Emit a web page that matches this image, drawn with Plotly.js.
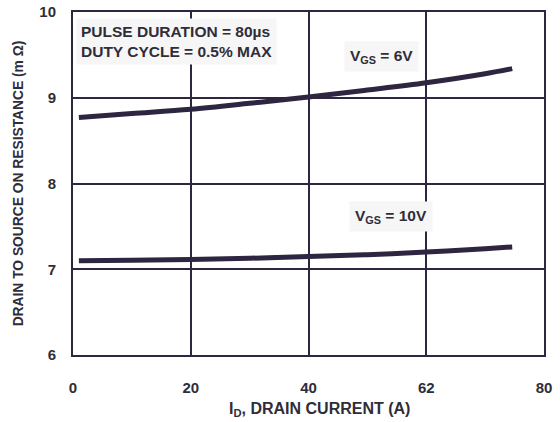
<!DOCTYPE html>
<html>
<head>
<meta charset="utf-8">
<script src="https://cdn.plot.ly/plotly-3.0.1.min.js"></script>
<style>html,body{margin:0;padding:0;background:#fff;}#chart{width:560px;height:422px;}</style>
</head>
<body>
<div id="chart"></div>
<script>
// Data
var currentA = [1, 10, 20, 30, 40, 50, 60, 70, 74.6];
var rdsVgs6 = [8.77, 8.815, 8.865, 8.935, 9.01, 9.09, 9.175, 9.28, 9.34];
var rdsVgs10 = [7.098, 7.105, 7.115, 7.128, 7.15, 7.17, 7.20, 7.24, 7.26];
var xTickVals = [0, 20, 40, 60, 80];
var xTickText = ['0', '20', '40', '62', '80'];
var yTickVals = [6, 7, 8, 9, 10];
var labelVgs6 = 'V<sub>GS</sub> = 6V';
var labelVgs10 = 'V<sub>GS</sub> = 10V';
var noteText = 'PULSE DURATION = 80\u00b5s<br>DUTY CYCLE = 0.5% MAX';
var xTitle = 'I<sub>D</sub>, DRAIN CURRENT (A)';
var yTitle = 'DRAIN TO SOURCE ON RESISTANCE (m \u03a9)';

var ink = '#2e2540';
var textCol = '#2f2d38';
var fam = 'Liberation Sans, Arial, sans-serif';
function F(s) { return {family: fam, size: s, color: textCol, weight: 'bold'}; }

var traces = [
  {x: currentA, y: rdsVgs6, mode: 'lines', line: {color: ink, width: 5, shape: 'spline'}, showlegend: false, hoverinfo: 'skip'},
  {x: currentA, y: rdsVgs10, mode: 'lines', line: {color: ink, width: 5, shape: 'spline'}, showlegend: false, hoverinfo: 'skip'}
];

var layout = {
  width: 560, height: 422,
  margin: {l: 73, r: 16, t: 12, b: 67},
  paper_bgcolor: '#fff', plot_bgcolor: '#fff',
  font: F(13),
  xaxis: {
    range: [0, 80], tickvals: xTickVals, ticktext: xTickText,
    showgrid: true, gridcolor: ink, gridwidth: 2,
    showline: true, linecolor: ink, linewidth: 2, mirror: true,
    zeroline: false, ticks: '', ticklabelstandoff: 18,
    tickfont: F(15)
  },
  yaxis: {
    range: [6, 10], tickvals: yTickVals,
    showgrid: true, gridcolor: ink, gridwidth: 2,
    showline: true, linecolor: ink, linewidth: 2, mirror: true,
    zeroline: false, ticks: '', ticklabelstandoff: 12,
    tickfont: F(15),
    title: {text: yTitle, font: F(13.8), standoff: 12}
  },
  annotations: [
    {x: 0.5, y: 9.93, xref: 'x', yref: 'y', xanchor: 'left', yanchor: 'top', align: 'left',
     text: noteText, showarrow: false, bgcolor: '#f6f6f6', borderpad: 4, font: F(15.5)},
    {x: 52.4, y: 9.48, xref: 'x', yref: 'y', text: labelVgs6, showarrow: false, bgcolor: '#f6f6f6', borderpad: 5, font: F(15.5)},
    {x: 54, y: 7.62, xref: 'x', yref: 'y', text: labelVgs10, showarrow: false, bgcolor: '#f6f6f6', borderpad: 5, font: F(15.5)},
    {x: 0.5244, y: -0.160, xref: 'paper', yref: 'paper', xanchor: 'center', yanchor: 'middle',
     text: xTitle, showarrow: false, font: F(16)}
  ]
};

Plotly.newPlot('chart', traces, layout, {displayModeBar: false, staticPlot: true});
</script>
</body>
</html>
